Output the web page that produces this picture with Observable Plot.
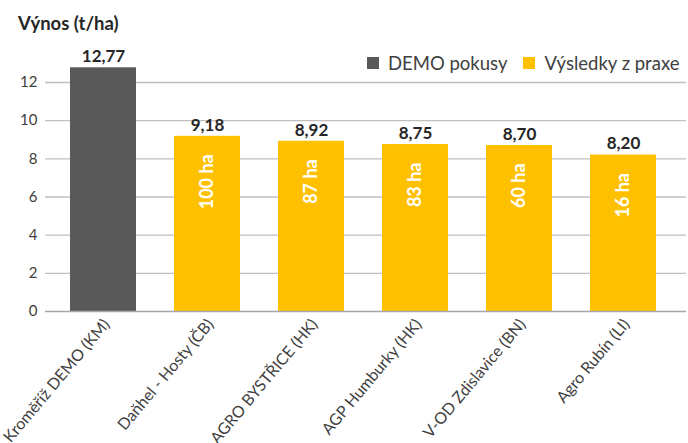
<!DOCTYPE html>
<html>
<head>
<meta charset="utf-8">
<script src="https://cdn.jsdelivr.net/npm/d3@7"></script>
<script src="https://cdn.jsdelivr.net/npm/@observablehq/plot@0.6"></script>
<style>
  body { margin: 0; background: #fff; font-family: Lato, "Open Sans", sans-serif; }
  #wrap { position: relative; width: 688px; height: 443px; overflow: hidden; }
  #title { position: absolute; left: 18px; top: 14px; font-size: 18.5px; font-weight: 700; color: #262626; line-height: 1; white-space: nowrap; }
  #legend { position: absolute; left: 367px; top: 54px; display: flex; align-items: center; font-size: 18.5px; color: #404040; line-height: 1; white-space: nowrap; width: 330px; }
  .item { display: flex; align-items: center; margin-right: 16px; white-space: nowrap; }
  .sw { width: 12px; height: 12px; margin-right: 9px; flex: none; }
  svg { display: block; }
</style>
</head>
<body>
<div id="wrap">
  <div id="title"></div>
  <div id="legend"></div>
</div>
<script>
const title = "Výnos (t/ha)";
const categories = ["Kroměříž DEMO (KM)", "Daňhel - Hosty (ČB)", "AGRO BYSTŘICE (HK)", "AGP Humburky (HK)", "V-OD Zdislavice (BN)", "Agro Rubín (LI)"];
const values = [12.77, 9.18, 8.92, 8.75, 8.70, 8.20];
const areas = ["", "100 ha", "87 ha", "83 ha", "60 ha", "16 ha"];
const groups = ["DEMO pokusy", "Výsledky z praxe", "Výsledky z praxe", "Výsledky z praxe", "Výsledky z praxe", "Výsledky z praxe"];
const seriesNames = ["DEMO pokusy", "Výsledky z praxe"];
const seriesColors = ["#595959", "#FFC000"];
const yTicks = [0, 2, 4, 6, 8, 10, 12];

const data = categories.map((c, i) => ({cat: c, value: values[i], area: areas[i], group: groups[i],
  label: d3.format(".2f")(values[i]).replace(".", ",")}));

const font = "Lato, 'Open Sans', sans-serif";

const chart = Plot.plot({
  width: 688,
  height: 443,
  marginLeft: 45,
  marginRight: 2,
  marginTop: 82,
  marginBottom: 132,
  style: {fontFamily: font, background: "#fff"},
  x: {domain: categories, range: [48.6, 677.4], paddingInner: 0.37, paddingOuter: 0.185, label: null},
  y: {domain: [0, 12], label: null},
  color: {domain: seriesNames, range: seriesColors},
  marks: [
    Plot.ruleY(yTicks.filter(t => t > 0), {stroke: "#bfbfbf", strokeWidth: 1.3}),
    Plot.barY(data, {x: "cat", y: "value", fill: "group"}),
    Plot.ruleY([0], {stroke: "#a6a6a6", strokeWidth: 1.3}),
    Plot.text(data, {x: "cat", y: "value", text: "label", dy: -11, fontSize: 17, fontWeight: 700, fill: "#262626"}),
    Plot.text(data, {x: "cat", y: "value", text: "area", rotate: -90, textAnchor: "end", lineAnchor: "middle", dy: 18, fontSize: 18, fontWeight: 700, fill: "#fff"}),
    Plot.axisY({ticks: yTicks, tickSize: 0, tickPadding: 8, fontSize: 15, fill: "#404040", label: null}),
    Plot.axisX({tickRotate: -50, tickSize: 0, tickPadding: 10, dx: 3, fontSize: 16, fill: "#404040", label: null})
  ]
});

const wrap = document.getElementById("wrap");
wrap.insertBefore(chart, wrap.firstChild);
document.getElementById("title").textContent = title;
const legend = document.getElementById("legend");
seriesNames.forEach((n, i) => {
  const it = document.createElement("div");
  it.className = "item";
  const sw = document.createElement("div");
  sw.className = "sw";
  sw.style.background = seriesColors[i];
  const tx = document.createElement("span");
  tx.textContent = n;
  it.appendChild(sw); it.appendChild(tx);
  legend.appendChild(it);
});
</script>
</body>
</html>
